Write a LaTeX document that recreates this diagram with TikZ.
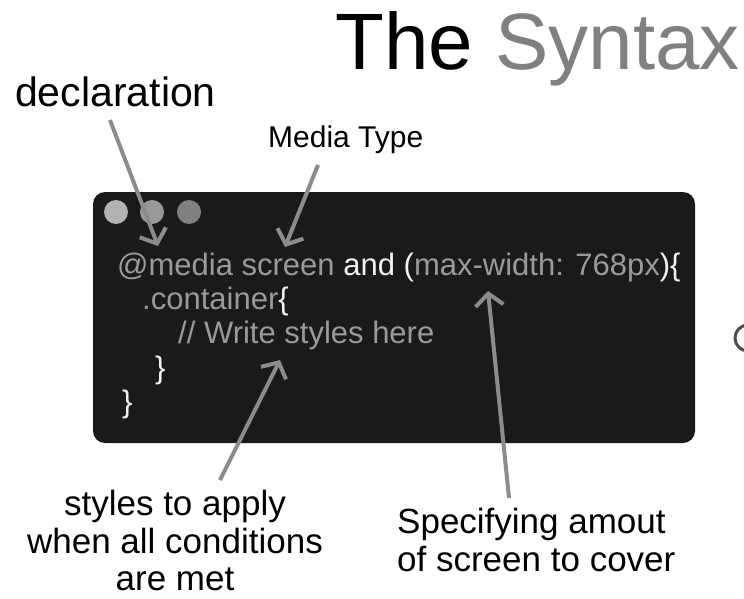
\documentclass[tikz,border=0pt]{standalone}
\usepackage{fontspec}
\setmainfont{Liberation Sans}
\usetikzlibrary{arrows.meta}
\definecolor{boxbg}{HTML}{1A1A1A}
\definecolor{codegray}{HTML}{9A9A9A}
\definecolor{codewhite}{HTML}{F2F2F2}
\definecolor{arrowgray}{HTML}{8C8C8C}
\definecolor{titlegray}{HTML}{808080}
\tikzset{
  codetext/.style={anchor=base west, inner sep=0pt, font=\fontsize{31}{31}\selectfont, text=codegray},
  label/.style={inner sep=0pt, font=\fontsize{35}{38}\selectfont, text=black, align=center},
  pointer/.style={draw=arrowgray, line width=4pt, -{Straight Barb[length=12pt, width=28pt, line width=4pt]}},
}
\begin{document}
\begin{tikzpicture}[x=1pt, y=-1pt]
\useasboundingbox (0,0) rectangle (744,599);
\fill[white] (0,0) rectangle (744,599);
% title
\node[anchor=base west, inner sep=0pt, font=\fontsize{80}{80}\selectfont] (title) at (335,70) {The \textcolor{titlegray}{Syntax}};
% code box
\fill[boxbg, rounded corners=12pt] (93,192) rectangle (695,443);
\fill[black!30] (116,212) circle (12);
\fill[black!40] (152,212) circle (12);
\fill[black!50] (189,212) circle (12);
\node[codetext] (l1) at (117,275) {@media screen \textcolor{codewhite}{and (}max-width: 768px\textcolor{codewhite}{)\{}};
\node[codetext] (l2) at (142,309) {.container\textcolor{codewhite}{\{}};
\node[codetext] (l3) at (178,343) {// Write styles here};
\node[codetext, text=codewhite] (l4) at (155,378) {\}};
\node[codetext, text=codewhite] (l5) at (122,412) {\}};
% partial circle at right edge
\begin{scope}
\clip (700,300) rectangle (744,420);
\draw[black!70, line width=3pt] (748,338) circle (13);
\end{scope}
% labels
\node[anchor=base west, inner sep=0pt, font=\fontsize{41}{42}\selectfont] (decl) at (15,107) {declaration};
\node[anchor=base west, inner sep=0pt, font=\fontsize{30}{30}\selectfont] (mtype) at (268,147) {Media Type};
\node[label, anchor=north, font=\fontsize{35}{37.5}\selectfont] (styles) at (175,490) {styles to apply\\when all conditions\\are met};
\node[label, anchor=north west, align=left] (spec) at (397,508) {Specifying amout\\of screen to cover};
% arrow endpoints
\coordinate (d0) at (110,120);
\coordinate (d1) at (158,246);
\coordinate (m0) at (318,165);
\coordinate (m1) at (285,247);
\coordinate (w0) at (509,498);
\coordinate (w1) at (488,291);
\coordinate (s0) at (220,480);
\coordinate (s1) at (280,360);
\draw[pointer] (d0) -- (d1);
\draw[pointer] (m0) -- (m1);
\draw[pointer] (w0) -- (w1);
\draw[pointer] (s0) -- (s1);
\end{tikzpicture}
\end{document}
